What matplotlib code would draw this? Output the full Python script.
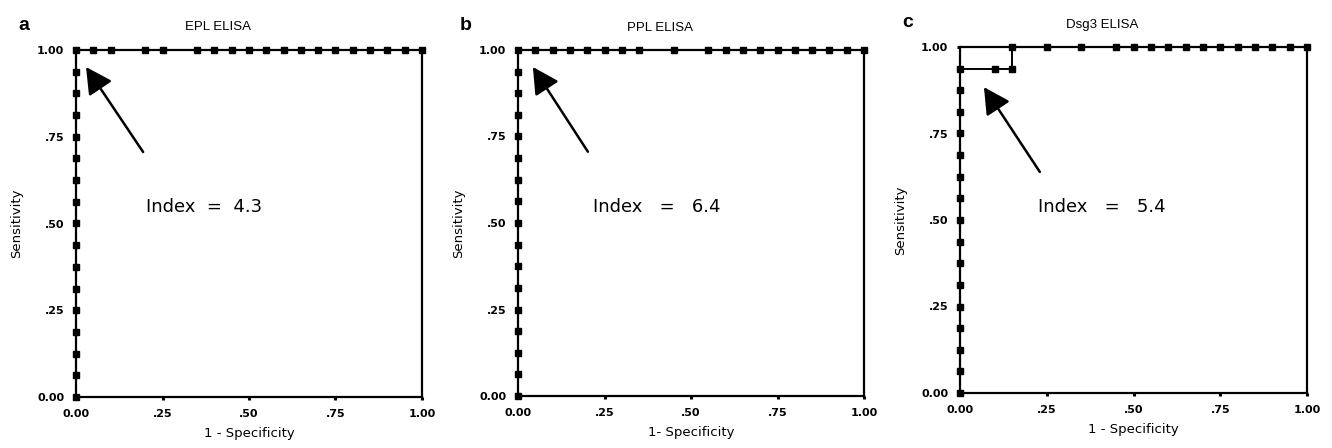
import matplotlib
matplotlib.use("Agg")
import matplotlib.pyplot as plt
import numpy as np

# ROC curve points (1 - specificity, sensitivity)
sens_steps = [i / 16 for i in range(17)]

epl_fpr_top = [0.00, 0.05, 0.10, 0.20, 0.25, 0.35, 0.40, 0.45, 0.50, 0.55,
               0.60, 0.65, 0.70, 0.75, 0.80, 0.85, 0.90, 0.95, 1.00]
ppl_fpr_top = [0.00, 0.05, 0.10, 0.15, 0.20, 0.25, 0.30, 0.35, 0.45, 0.55,
               0.60, 0.65, 0.70, 0.75, 0.80, 0.85, 0.90, 0.95, 1.00]

epl_x = [0.0] * 17 + epl_fpr_top[1:]
epl_y = sens_steps + [1.0] * (len(epl_fpr_top) - 1)
ppl_x = [0.0] * 17 + ppl_fpr_top[1:]
ppl_y = sens_steps + [1.0] * (len(ppl_fpr_top) - 1)

dsg3_x = [0.0] * 16 + [0.10, 0.15, 0.15, 0.25, 0.35, 0.45, 0.50, 0.55, 0.60,
                       0.65, 0.70, 0.75, 0.80, 0.85, 0.90, 0.95, 1.00]
dsg3_y = sens_steps[:16] + [15 / 16, 15 / 16] + [1.0] * 15

titles = ["EPL ELISA", "PPL ELISA", "Dsg3 ELISA"]
letters = ["a", "b", "c"]
xlabels = ["1 - Specificity", "1- Specificity", "1 - Specificity"]
index_text = ["Index  =  4.3", "Index   =   6.4", "Index   =   5.4"]
tick_vals = [0, 0.25, 0.5, 0.75, 1.0]
tick_labels = ["0.00", ".25", ".50", ".75", "1.00"]

curves = [(epl_x, epl_y), (ppl_x, ppl_y), (dsg3_x, dsg3_y)]
# arrow tail / tip in data units
arrows = [((0.194, 0.706), (0.029, 0.951)),
          ((0.202, 0.706), (0.043, 0.951)),
          ((0.230, 0.639), (0.069, 0.884))]
text_pos = [(0.202, 0.547), (0.217, 0.547), (0.225, 0.538)]

W, H = 1332, 448
fig = plt.figure(figsize=(W / 100, H / 100), dpi=100)

boxes = [(76, 50, 346, 347), (518, 50, 346, 346), (960, 47, 347, 346)]

for i, (l, t, w, h) in enumerate(boxes):
    ax = fig.add_axes([l / W, (H - t - h) / H, w / W, h / H])
    x, y = curves[i]
    ax.plot(x, y, color='k', lw=1.4, marker='s', ms=3.9, clip_on=False, zorder=5)
    ax.set_xlim(0, 1)
    ax.set_ylim(0, 1)
    for s in ax.spines.values():
        s.set_linewidth(1.6)
    ax.set_xticks(tick_vals)
    ax.set_xticklabels(tick_labels, fontsize=8, fontweight='bold')
    ax.set_yticks(tick_vals)
    ax.set_yticklabels(tick_labels, fontsize=8, fontweight='bold')
    ax.tick_params(length=2.5, width=2.2, pad=6)
    ax.set_xlabel(xlabels[i], fontsize=9.5, labelpad=6)
    ax.set_ylabel("Sensitivity", fontsize=9.5, labelpad=10)
    ax.text(0.41, 1.065, titles[i], transform=ax.transAxes, ha='center',
            va='center', fontsize=9.5, family='Liberation Sans')
    ax.text(-0.15, 1.07, letters[i], transform=ax.transAxes, ha='center',
            va='center', fontsize=14, fontweight='bold', family='Liberation Sans')
    tail, tip = arrows[i]
    ax.annotate("", xy=tip, xytext=tail,
                arrowprops=dict(arrowstyle="-|>,head_length=1.6,head_width=0.85",
                                color='k', lw=1.8, shrinkA=0, shrinkB=0))
    ax.text(text_pos[i][0], text_pos[i][1], index_text[i], fontsize=13,
            ha='left', va='center')

fig.savefig("out.png", dpi=100)
